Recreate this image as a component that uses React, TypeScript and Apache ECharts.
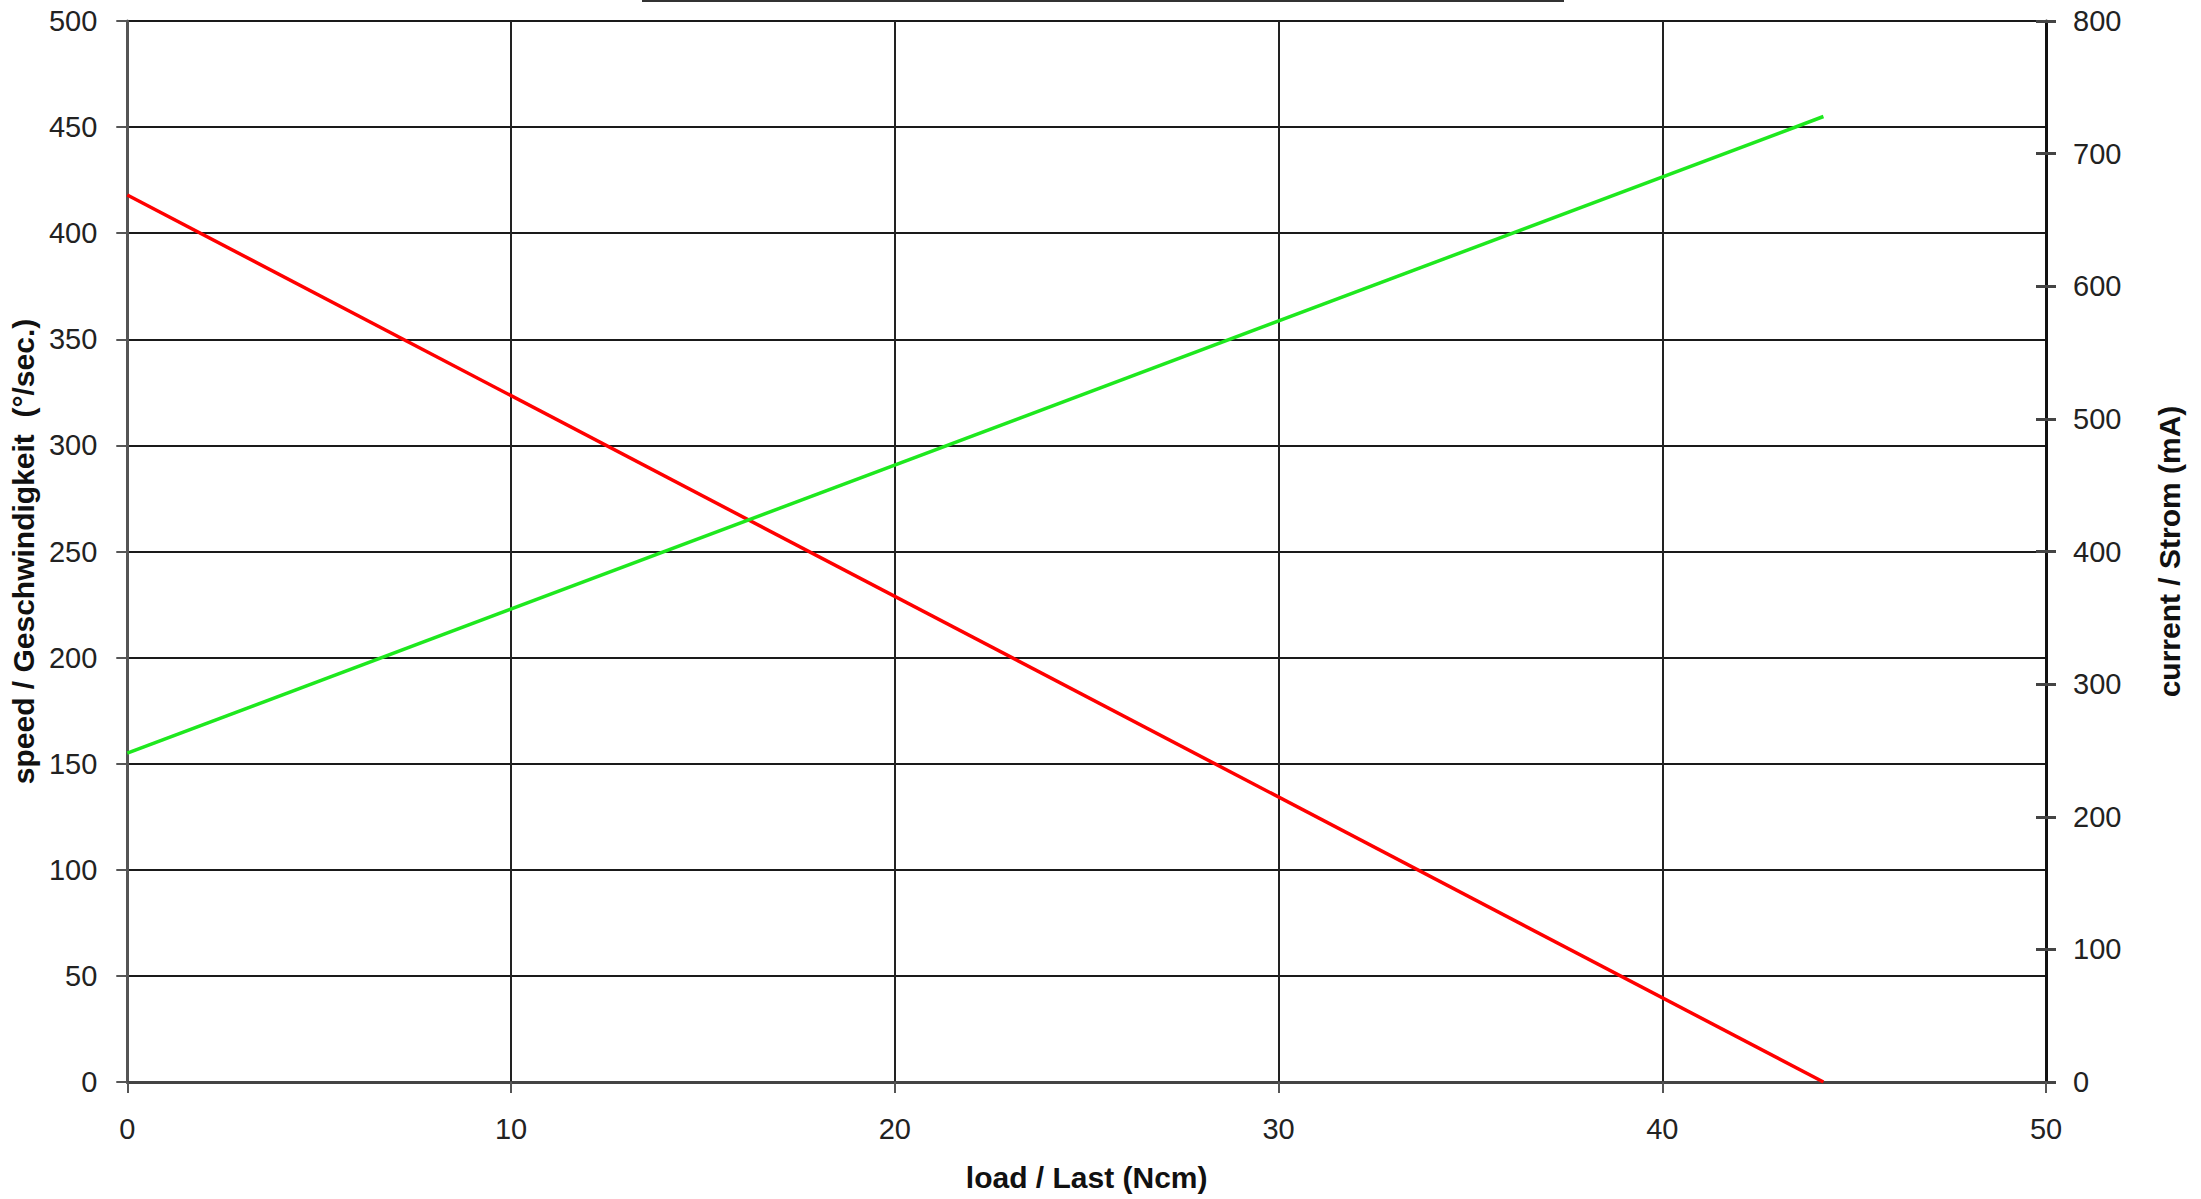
import React, { useEffect, useRef } from "react";
import * as echarts from "echarts";

const loadNcm = [0, 44.2];
const speedDegPerSec = [418, 0];
const currentMA = [248, 728];
const xTitle = "load / Last (Ncm)";
const leftTitle = "speed / Geschwindigkeit  (°/sec.)";
const rightTitle = "current / Strom (mA)";

const FONT = "'Liberation Sans', Arial, sans-serif";

export default function App() {
  const ref = useRef<HTMLDivElement>(null);
  useEffect(() => {
    if (!ref.current) return;
    const chart = echarts.init(ref.current, undefined, { renderer: "svg" });
    const labelStyle = { color: "#222", fontSize: 29, fontFamily: FONT };
    const nameStyle = { color: "#111", fontSize: 30, fontWeight: "bold" as const, fontFamily: FONT };
    chart.setOption({
      animation: false,
      backgroundColor: "#fff",
      grid: { left: 125, right: 155, top: 21, bottom: 117, containLabel: false },
      graphic: [
        {
          type: "line",
          shape: { x1: 642, y1: 1, x2: 1564, y2: 1 },
          style: { stroke: "#333", lineWidth: 2 },
        },
      ],
      xAxis: {
        type: "value",
        min: 0,
        max: 50,
        interval: 10,
        name: xTitle,
        nameLocation: "middle",
        nameGap: 80,
        nameTextStyle: nameStyle,
        axisLine: { show: true, lineStyle: { color: "#444", width: 3 } },
        axisTick: { show: true, length: 11, lineStyle: { color: "#555", width: 2 } },
        axisLabel: { ...labelStyle, margin: 32 },
        splitLine: { show: true, lineStyle: { color: "#222", width: 2 } },
      },
      yAxis: [
        {
          type: "value",
          min: 0,
          max: 500,
          interval: 50,
          position: "left",
          name: leftTitle,
          nameLocation: "middle",
          nameGap: 83,
          nameRotate: 90,
          nameTextStyle: nameStyle,
          axisLine: { show: true, lineStyle: { color: "#555", width: 3 } },
          axisTick: { show: true, length: 11, lineStyle: { color: "#555", width: 2 } },
          axisLabel: { ...labelStyle, margin: 30 },
          splitLine: { show: true, lineStyle: { color: "#1a1a1a", width: 2 } },
        },
        {
          type: "value",
          min: 0,
          max: 800,
          interval: 100,
          position: "right",
          name: rightTitle,
          nameLocation: "middle",
          nameGap: 108,
          nameRotate: 90,
          nameTextStyle: nameStyle,
          axisLine: { show: true, lineStyle: { color: "#111", width: 3 } },
          axisTick: { show: true, length: 10, lineStyle: { color: "#444", width: 3 } },
          axisLabel: { ...labelStyle, margin: 27 },
          splitLine: { show: false },
        },
        {
          type: "value",
          min: 0,
          max: 800,
          interval: 100,
          position: "right",
          axisLine: { show: false },
          axisTick: { show: true, inside: true, length: 10, lineStyle: { color: "#444", width: 3 } },
          axisLabel: { show: false },
          splitLine: { show: false },
        },
      ],
      series: [
        {
          type: "line",
          yAxisIndex: 0,
          data: loadNcm.map((x, i) => [x, speedDegPerSec[i]]),
          symbol: "none",
          lineStyle: { color: "#ff0000", width: 3.5 },
        },
        {
          type: "line",
          yAxisIndex: 1,
          data: loadNcm.map((x, i) => [x, currentMA[i]]),
          symbol: "none",
          lineStyle: { color: "#1ee81e", width: 3.5 },
        },
      ],
    });
    return () => chart.dispose();
  }, []);
  return (
    <div
      ref={ref}
      style={{ position: "absolute", left: 0, top: 0, width: 2201, height: 1199, background: "#fff" }}
    />
  );
}
